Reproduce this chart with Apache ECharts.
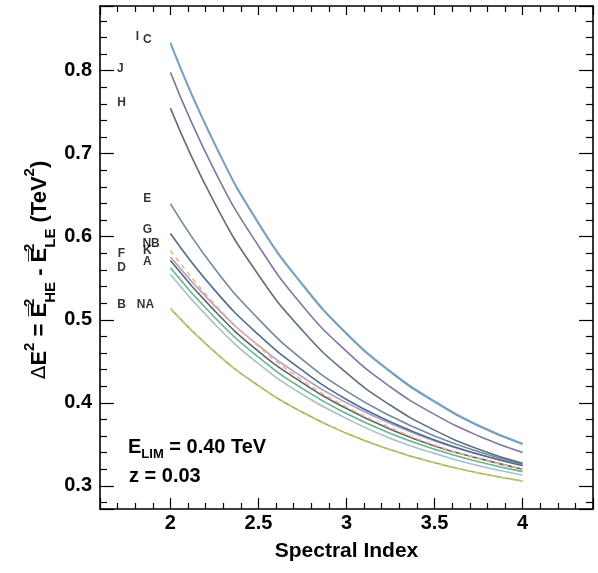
<!DOCTYPE html>
<html>
<head>
<meta charset="utf-8">
<script src="https://cdn.jsdelivr.net/npm/echarts@6/dist/echarts.min.js"></script>
<style>
html,body{margin:0;padding:0;background:#fff;}
#chart{width:598px;height:573px;}
</style>
</head>
<body>
<div id="chart"></div>
<script>
// ---- data ----
const xValues = [2, 2.25, 2.5, 2.75, 3, 3.25, 3.5, 3.75, 4];
const seriesNames = ['I', 'C', 'J', 'H', 'E', 'G', 'NB', 'K', 'F', 'A', 'D', 'B', 'NA'];
const valI  = [0.834, 0.713, 0.617, 0.543, 0.484, 0.438, 0.402, 0.373, 0.351];
const valC  = [0.833, 0.712, 0.616, 0.542, 0.483, 0.437, 0.401, 0.372, 0.350];
const valJ  = [0.798, 0.680, 0.589, 0.517, 0.462, 0.419, 0.386, 0.360, 0.340];
const valH  = [0.755, 0.641, 0.554, 0.487, 0.436, 0.397, 0.367, 0.344, 0.327];
const valE  = [0.640, 0.562, 0.501, 0.452, 0.414, 0.384, 0.360, 0.341, 0.326];
const valG  = [0.604, 0.536, 0.482, 0.439, 0.404, 0.377, 0.355, 0.338, 0.324];
const valNB = [0.5835, 0.519, 0.468, 0.427, 0.395, 0.370, 0.349, 0.333, 0.320];
const valK  = [0.5755, 0.517, 0.469, 0.431, 0.400, 0.375, 0.354, 0.338, 0.325];
const valF  = [0.5715, 0.511, 0.462, 0.424, 0.393, 0.368, 0.348, 0.333, 0.320];
const valA  = [0.5627, 0.503, 0.455, 0.417, 0.387, 0.363, 0.344, 0.329, 0.317];
const valD  = [0.5546, 0.495, 0.447, 0.410, 0.381, 0.357, 0.339, 0.324, 0.313];
const valB  = [0.5134, 0.4615, 0.4206, 0.3885, 0.3632, 0.3433, 0.3277, 0.3154, 0.3057];
const valNA = [0.5134, 0.4615, 0.4206, 0.3885, 0.3632, 0.3433, 0.3277, 0.3154, 0.3057];
const seriesValues = [valI, valC, valJ, valH, valE, valG, valNB, valK, valF, valA, valD, valB, valNA];

// curve tags drawn at the left
const tagNames = ['I', 'C', 'J', 'H', 'E', 'G', 'NB', 'K', 'A', 'F', 'D', 'B', 'NA'];
const tagX     = [1.813, 1.869, 1.716, 1.722, 1.869, 1.869, 1.890, 1.869, 1.869, 1.722, 1.722, 1.722, 1.858];
const tagY     = [0.8413, 0.8369, 0.8028, 0.7619, 0.6457, 0.6088, 0.5916, 0.5835, 0.5694, 0.5795, 0.5622, 0.5186, 0.5186];

// ---- styles ----
const colors = {
  I: '#78a2d8', C: '#6e9a82', J: '#7b7a9e', H: '#5e6e7d', E: '#6f8a9f', G: '#4f6e8e',
  NB: '#f2b67c', K: '#ab9fcd', F: '#5b6670', A: '#68b48c', D: '#a8bfcc', B: '#86b873', NA: '#d6c85e'
};
const dashed = { NB: true, NA: true };
const drawOrder = ['B', 'NA', 'D', 'A', 'F', 'K', 'NB', 'G', 'E', 'H', 'J', 'C', 'I'];

const FONT = "'Liberation Sans', Arial, Helvetica, sans-serif";
const chart = echarts.init(document.getElementById('chart'), null, { renderer: 'canvas' });

const lineSeries = drawOrder.map(function (n) {
  const vals = seriesValues[seriesNames.indexOf(n)];
  return {
    name: n,
    type: 'line',
    smooth: true,
    showSymbol: false,
    symbol: 'none',
    data: xValues.map(function (x, i) { return [x, vals[i]]; }),
    lineStyle: { color: colors[n], width: 1.6, type: dashed[n] ? [5, 4] : 'solid' },
    z: 3
  };
});

const tagSeries = {
  type: 'scatter',
  symbolSize: 0,
  data: tagNames.map(function (n, i) { return { name: n, value: [tagX[i], tagY[i]] }; }),
  label: {
    show: true, position: 'inside', formatter: '{b}',
    color: '#000', fontFamily: FONT, fontWeight: 'bold', fontSize: 12
  },
  silent: true,
  z: 5
};

const axisCommon = {
  type: 'value',
  axisLine: { show: true, lineStyle: { color: '#000', width: 1.6 } },
  splitLine: { show: false },
  minorSplitLine: { show: false }
};
const tickStyle = { color: '#000', width: 1.2 };

const option = {
  backgroundColor: '#fff',
  animation: false,
  grid: { left: 100, right: 5, top: 6, bottom: 64, containLabel: false, outerBoundsMode: 'none' },
  xAxis: [
    Object.assign({}, axisCommon, {
      min: 1.6, max: 4.4, position: 'bottom',
      axisTick: { show: true, inside: true, length: 11, lineStyle: tickStyle },
      minorTick: { show: true, splitNumber: 5, length: 6, lineStyle: tickStyle },
      axisLabel: {
        show: true, color: '#000', fontFamily: FONT, fontWeight: 'bold', fontSize: 20, margin: 4,
        showMinLabel: false, showMaxLabel: false,
        formatter: function (v) { return (Math.abs(v * 2 - Math.round(v * 2)) < 1e-6) ? String(+v.toFixed(1)) : ''; }
      },
      name: 'Spectral Index', nameLocation: 'middle', nameGap: 32,
      nameTextStyle: { color: '#000', fontFamily: FONT, fontWeight: 'bold', fontSize: 21, verticalAlign: 'top' }
    }),
    Object.assign({}, axisCommon, {
      min: 1.6, max: 4.4, position: 'top',
      axisTick: { show: true, inside: true, length: 9, lineStyle: tickStyle },
      minorTick: { show: true, splitNumber: 5, length: 6, lineStyle: tickStyle },
      axisLabel: { show: false }
    })
  ],
  yAxis: [
    Object.assign({}, axisCommon, {
      min: 0.272, max: 0.878, position: 'left',
      axisTick: { show: true, inside: true, length: 14, lineStyle: tickStyle },
      minorTick: { show: true, splitNumber: 5, length: 7, lineStyle: tickStyle },
      axisLabel: {
        show: true, color: '#000', fontFamily: FONT, fontWeight: 'bold', fontSize: 20, margin: 8,
        showMinLabel: false, showMaxLabel: false,
        formatter: function (v) { return (Math.abs(v * 10 - Math.round(v * 10)) < 1e-6) ? v.toFixed(1) : ''; }
      }
    }),
    Object.assign({}, axisCommon, {
      min: 0.272, max: 0.878, position: 'right',
      axisTick: { show: true, inside: true, length: 14, lineStyle: tickStyle },
      minorTick: { show: true, splitNumber: 5, length: 7, lineStyle: tickStyle },
      axisLabel: { show: false }
    })
  ],
  graphic: [
    {
      type: 'text', x: 40, y: 270, rotation: Math.PI / 2,
      style: {
        text: '{d|\u0394}{n|E}{sup|2}{n| = E\u0305}{sups|2}{sub|HE}{n| - E\u0305}{sups|2}{sub|LE}{n| (TeV}{sup|2}{n|)}',
        align: 'center', verticalAlign: 'middle',
        rich: {
          d: { fontFamily: "'DejaVu Sans', sans-serif", fontWeight: 'normal', fontSize: 20, lineHeight: 36, fill: '#000' },
          n: { fontFamily: FONT, fontWeight: 'bold', fontSize: 22, lineHeight: 36, fill: '#000' },
          sup: { fontFamily: FONT, fontWeight: 'bold', fontSize: 15, lineHeight: 15, verticalAlign: 'top', fill: '#000' },
          sups: { fontFamily: FONT, fontWeight: 'bold', fontSize: 15, lineHeight: 15, width: 0, verticalAlign: 'top', fill: '#000' },
          sub: { fontFamily: FONT, fontWeight: 'bold', fontSize: 15, lineHeight: 15, verticalAlign: 'bottom', fill: '#000' }
        }
      }
    },
    {
      type: 'text', left: 128, top: 437,
      style: {
        text: '{n|E}{sub|LIM}{n| = 0.40 TeV}',
        rich: {
          n: { fontFamily: FONT, fontWeight: 'bold', fontSize: 20, lineHeight: 28, fill: '#000' },
          sub: { fontFamily: FONT, fontWeight: 'bold', fontSize: 13, lineHeight: 13, verticalAlign: 'bottom', fill: '#000' }
        }
      }
    },
    {
      type: 'text', left: 129, top: 466,
      style: { text: 'z = 0.03', fontFamily: FONT, fontWeight: 'bold', fontSize: 20, fill: '#000' }
    }
  ],
  series: lineSeries.concat([tagSeries])
};
chart.setOption(option);
</script>
</body>
</html>
